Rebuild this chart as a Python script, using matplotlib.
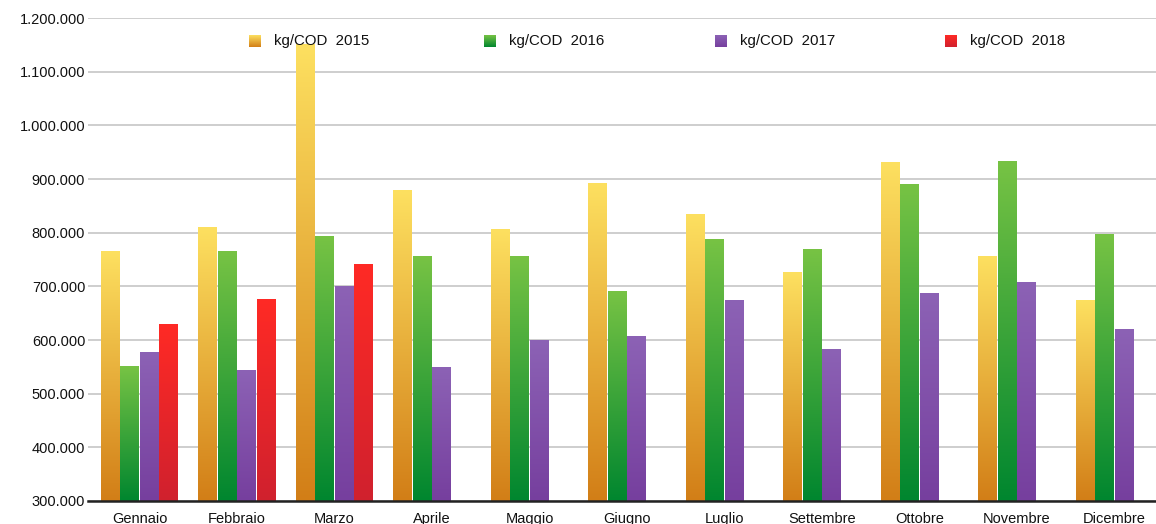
import numpy as np
import matplotlib
matplotlib.use("Agg")
import matplotlib.pyplot as plt
from matplotlib.colors import LinearSegmentedColormap
from matplotlib.ticker import FuncFormatter

plt.rcParams['font.family'] = ['Liberation Sans', 'DejaVu Sans']

months = ['Gennaio', 'Febbraio', 'Marzo', 'Aprile', 'Maggio', 'Giugno',
          'Luglio', 'Settembre', 'Ottobre', 'Novembre', 'Dicembre']
kg_2015 = [764000, 809000, 1150000, 878000, 805000, 892000, 833000, 725000, 930000, 756000, 673000]
kg_2016 = [551000, 764000, 792000, 756000, 756000, 691000, 788000, 768000, 889000, 933000, 796000]
kg_2017 = [576000, 544000, 700000, 548000, 600000, 607000, 673000, 583000, 687000, 708000, 620000]
kg_2018 = [628000, 676000, 740000, None, None, None, None, None, None, None, None]
labels = ['kg/COD  2015', 'kg/COD  2016', 'kg/COD  2017', 'kg/COD  2018']

# (bottom colour, top colour) of each gradient
grads = [('#D27E17', '#FDE060'),
         ('#00862F', '#77C344'),
         ('#763F9E', '#8C62B5'),
         ('#D0212E', '#FF2A25')]

BASE = 300000
W, H = 1156, 524
fig = plt.figure(figsize=(W / 100, H / 100), dpi=100)
ax = fig.add_axes([88 / W, (H - 501) / H, (W - 88) / W, (501 - 18) / H])

grad = np.linspace(1, 0, 256).reshape(-1, 1)
x = np.arange(len(months))
series = [kg_2015, kg_2016, kg_2017, kg_2018]
for i, vals in enumerate(series):
    cmap = LinearSegmentedColormap.from_list('g%d' % i, grads[i])
    hs = [v - BASE if v is not None else 0 for v in vals]
    rects = ax.bar(x - 0.3 + i * 0.2, hs, bottom=BASE, width=0.19,
                   facecolor='none', edgecolor='none')
    for r, v in zip(rects, vals):
        if v is None:
            continue
        x0, y0 = r.get_x(), r.get_y()
        ax.imshow(grad, cmap=cmap, aspect='auto', interpolation='bicubic',
                  extent=[x0, x0 + r.get_width(), y0, y0 + r.get_height()],
                  zorder=2)

ax.set_xlim(-0.528, 10.426)
ax.set_ylim(BASE, 1200000)
ax.set_yticks(np.arange(300000, 1200001, 100000))
ax.yaxis.set_major_formatter(FuncFormatter(lambda v, p: f'{int(v):,}'.replace(',', '.')))
ax.set_xticks(x)
ax.set_xticklabels(months)
ax.tick_params(length=0, labelsize=10.5, colors='#111111')
ax.tick_params(axis='x', pad=8)
ax.tick_params(axis='y', pad=2)
ax.grid(axis='y', color='#C6C6C6', linewidth=1.2, zorder=0)
ax.set_axisbelow(True)
for s in ['top', 'right', 'left']:
    ax.spines[s].set_visible(False)
ax.spines['bottom'].set_color('#222222')
ax.spines['bottom'].set_linewidth(1.8)
ax.spines['bottom'].set_zorder(3)

# legend drawn in pixel coordinates
lax = fig.add_axes([0, 0, 1, 1], facecolor='none')
lax.set_xlim(0, W)
lax.set_ylim(H, 0)
lax.axis('off')
leg_x = [249, 484, 715, 945]
for i, lab in enumerate(labels):
    cmap = LinearSegmentedColormap.from_list('l%d' % i, grads[i])
    lx = leg_x[i]
    lax.imshow(grad, cmap=cmap, aspect='auto', interpolation='bicubic',
               extent=[lx, lx + 12, 47, 35])
    lax.text(lx + 25, 41, lab, fontsize=10.8, va='center', ha='left', color='#111111')
lax.set_xlim(0, W)
lax.set_ylim(H, 0)

fig.savefig('out.png', dpi=100)
